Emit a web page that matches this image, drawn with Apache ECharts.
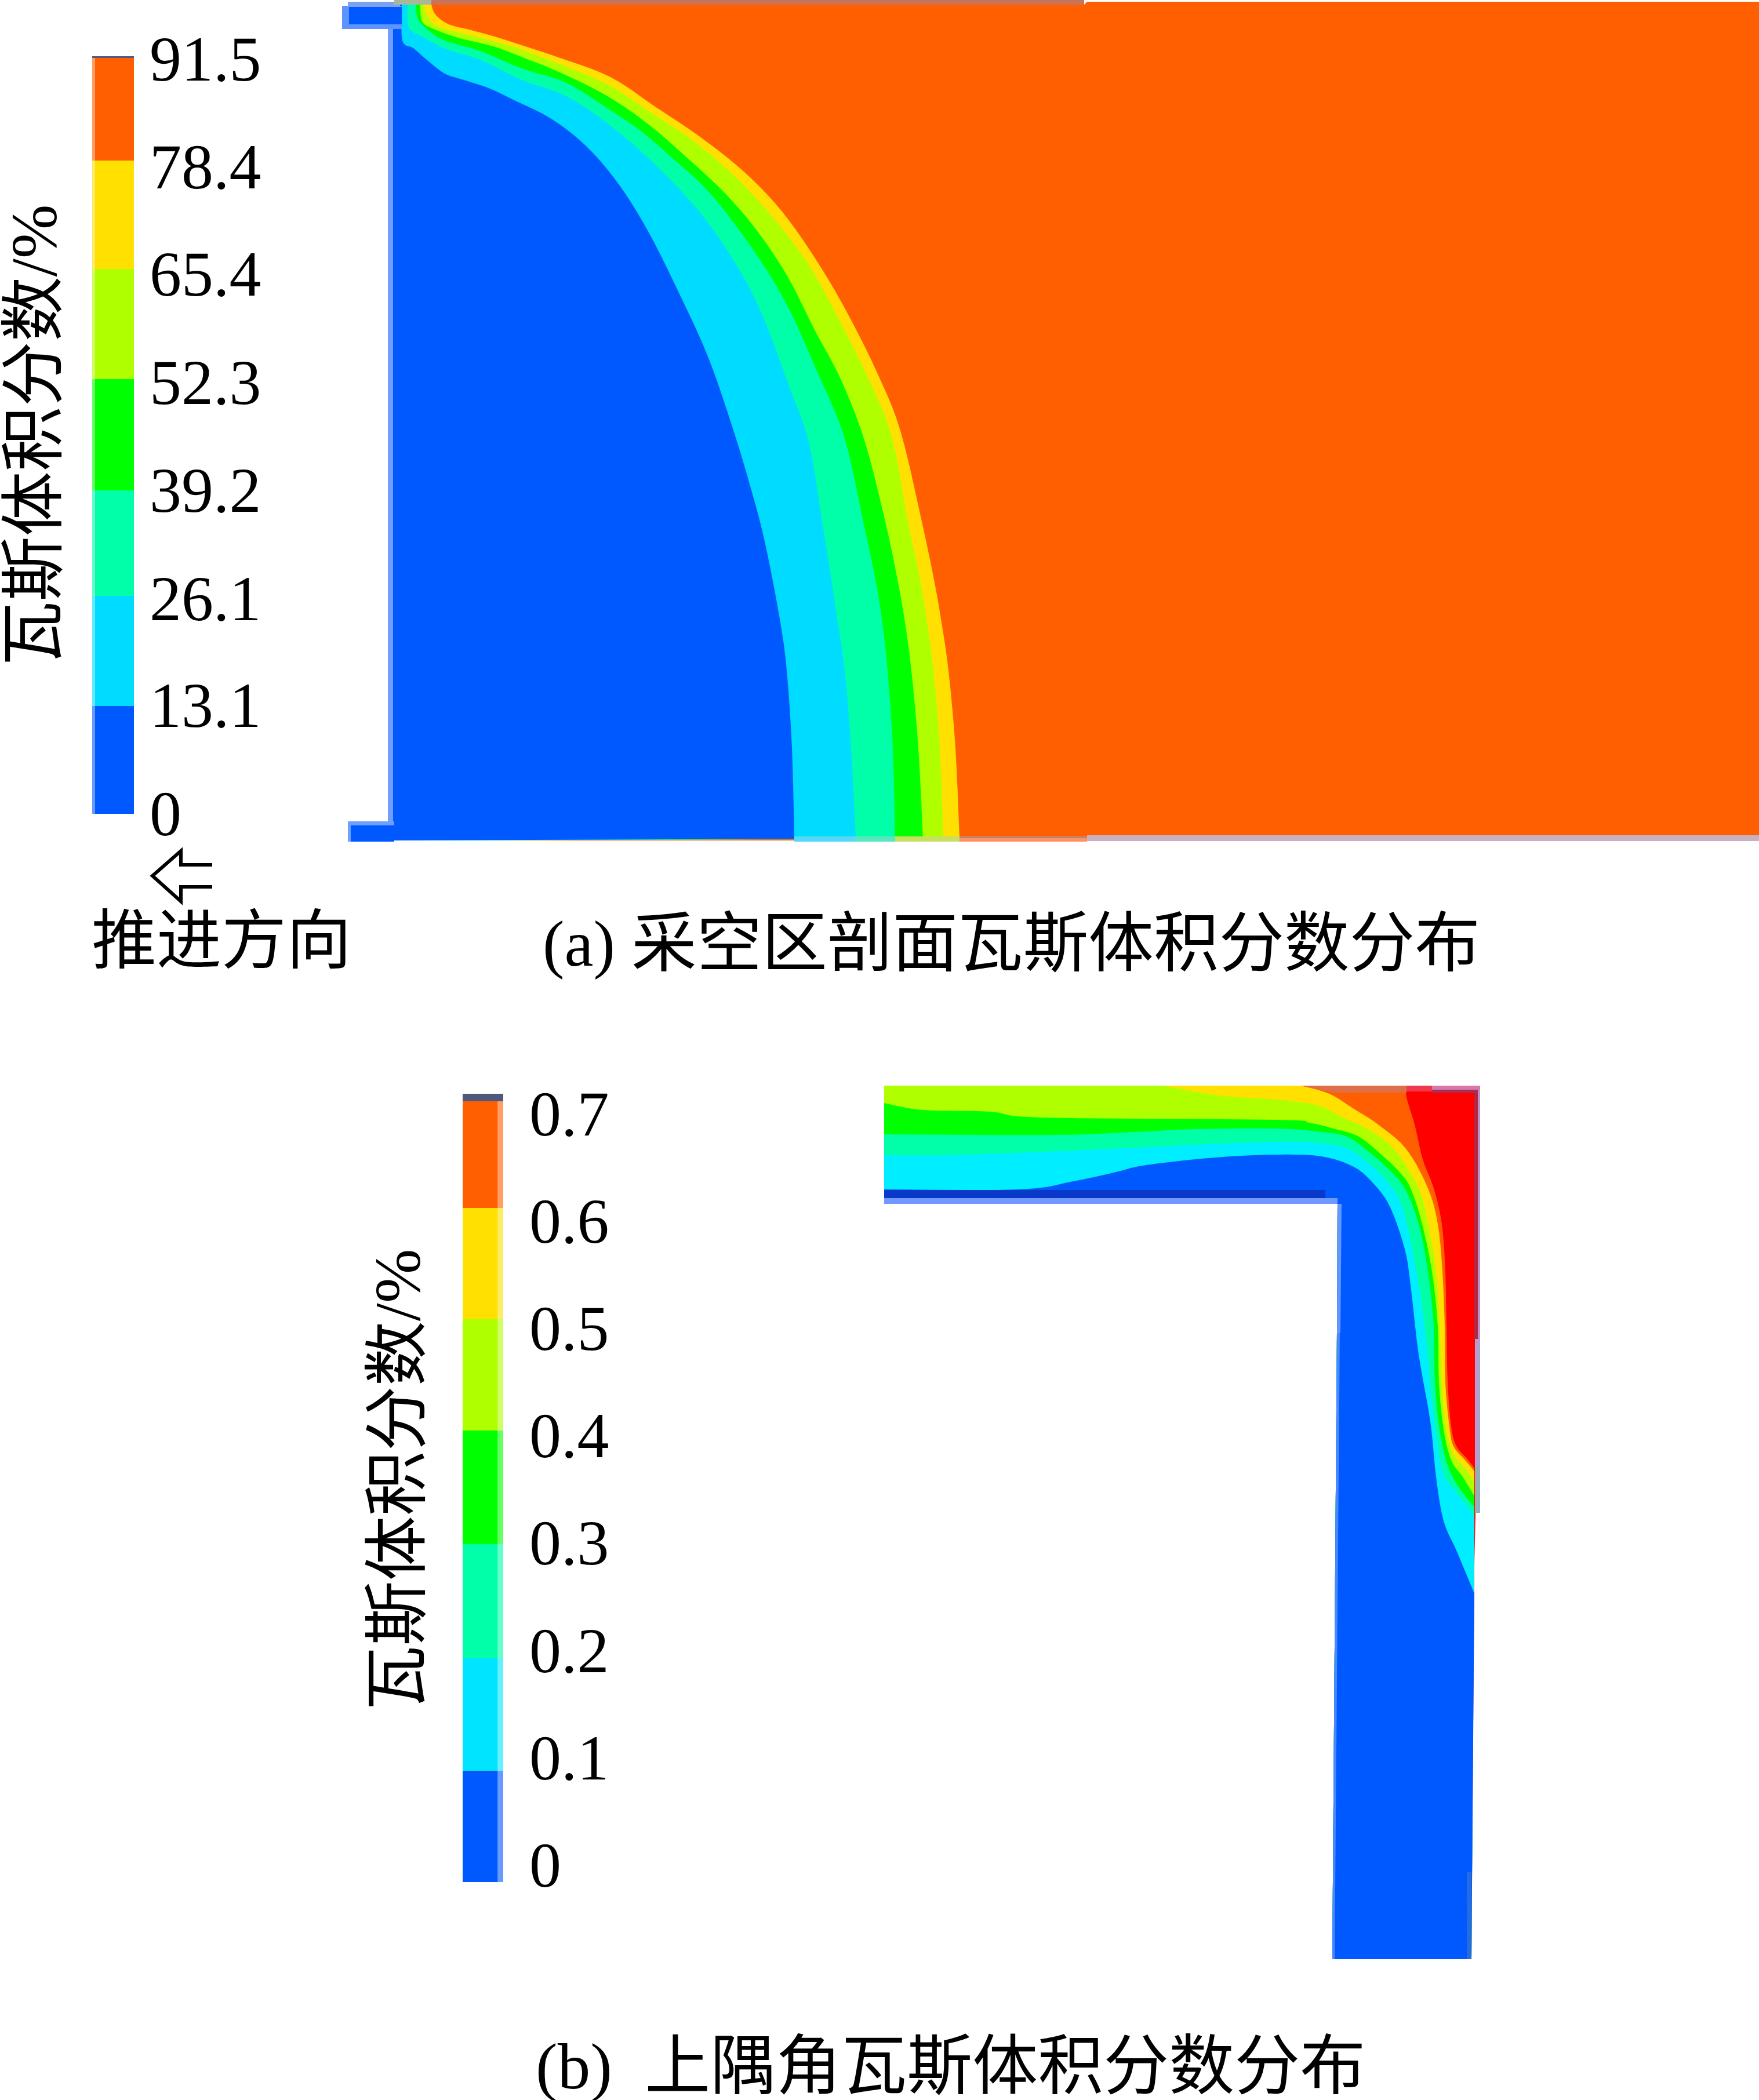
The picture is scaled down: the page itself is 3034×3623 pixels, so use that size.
<!DOCTYPE html>
<html>
<head>
<meta charset="utf-8">
<style>html,body{margin:0;padding:0;background:#fff}#c{width:3034px;height:3623px}</style>
<script src="https://cdn.jsdelivr.net/npm/echarts@6/dist/echarts.min.js"></script>
</head>
<body>
<div id="c"></div>
<script>
// ---------- colour bar (a): gas volume fraction /%
var ticksA = [0, 13.1, 26.1, 39.2, 52.3, 65.4, 78.4, 91.5];
var edgesA = [0.56, 13.63, 26.99, 39.78, 53.27, 66.62, 79.77, 92.42];
var bandColoursA = ['#0058ff', '#00dcff', '#00ffa8', '#00ff00', '#b0ff00', '#ffe000', '#ff5f00'];
// ---------- colour bar (b)
var ticksB = [0, 0.1, 0.2, 0.3, 0.4, 0.5, 0.6, 0.7];
var edgesB = [-0.0113, 0.0924, 0.1971, 0.3035, 0.4094, 0.5131, 0.6168, 0.7232];
var bandColoursB = ['#0058ff', '#00e4ff', '#00ffa8', '#00ff00', '#b0ff00', '#ffe000', '#ff5f00'];

// ---------- contour boundaries, [x, y] on the section's axes
var aBlueCyan = [[693,8],[694,70],[713,83],[736,103],[767,127],[797,137],[843,152],[885,172],[951,205],[1012,253],[1068,319],[1119,401],[1170,503],[1221,615],[1262,733],[1293,835],[1319,934],[1345,1068],[1357,1157],[1366,1291],[1370,1447]];
var aCyanSpring = [[703,8],[705,47],[728,63],[770,85],[828,103],[900,138],[977,166],[1053,217],[1130,284],[1206,365],[1267,452],[1313,539],[1359,661],[1395,763],[1418,900],[1434,1000],[1444,1068],[1457,1157],[1468,1291],[1476,1447]];
var aSpringGreen = [[717,8],[721,33],[740,53],[767,70],[828,88],[900,118],[977,143],[1048,187],[1104,225],[1160,273],[1216,324],[1267,386],[1323,467],[1364,539],[1405,631],[1456,753],[1489,900],[1510,1000],[1521,1068],[1531,1157],[1540,1291],[1544,1447]];
var aGreenLime = [[725,8],[728,37],[748,50],[790,65],[851,80],[904,100],[966,125],[1048,166],[1119,215],[1186,273],[1252,335],[1308,401],[1359,478],[1405,569],[1451,656],[1492,763],[1527,900],[1548,1000],[1560,1068],[1572,1157],[1584,1291],[1592,1447]];
var aLimeYellow = [[730,8],[740,33],[759,47],[809,60],[866,75],[925,95],[1043,143],[1119,192],[1196,243],[1267,304],[1334,376],[1395,457],[1446,549],[1497,651],[1538,753],[1566,900],[1587,1000],[1598,1068],[1610,1157],[1621,1291],[1627,1447]];
var aYellowOrange = [[744,8],[751,25],[774,42],[813,52],[866,67],[966,100],[1053,133],[1130,184],[1206,235],[1283,296],[1349,365],[1410,452],[1461,539],[1512,641],[1553,743],[1590,900],[1611,1000],[1623,1068],[1636,1157],[1648,1291],[1655,1447]];

// ---------- contour boundaries
var bBlueCyan = [[1525,2052],[1760,2052],[1851,2038],[1921,2023],[1977,2010],[2096,1997],[2202,1992],[2279,1995],[2335,2013],[2370,2043],[2398,2083],[2423,2155],[2433,2217],[2447,2337],[2467,2452],[2477,2548],[2490,2624],[2513,2677],[2543,2749]];
var bCyanSpring = [[1525,1993],[1640,1993],[1851,1985],[2061,1975],[2202,1970],[2272,1972],[2321,1980],[2356,2003],[2391,2037],[2419,2083],[2443,2194],[2457,2289],[2467,2385],[2477,2471],[2490,2543],[2510,2572],[2543,2615]];
var bSpringGreen = [[1525,1957],[1816,1958],[1956,1953],[2061,1948],[2202,1947],[2272,1952],[2321,1960],[2356,1983],[2391,2013],[2423,2050],[2447,2112],[2463,2194],[2473,2289],[2475,2385],[2483,2466],[2497,2528],[2517,2567],[2543,2600]];
var bGreenLime = [[1525,1903],[1591,1915],[1710,1918],[1795,1928],[2202,1932],[2258,1937],[2300,1947],[2342,1960],[2377,1987],[2412,2020],[2433,2050],[2453,2112],[2470,2194],[2480,2289],[2482,2385],[2490,2466],[2503,2519],[2523,2548],[2543,2581]];
var bLimeYellow = [[2005,1873],[2103,1890],[2202,1897],[2272,1907],[2321,1930],[2363,1950],[2405,1983],[2447,2050],[2463,2112],[2477,2194],[2483,2289],[2487,2385],[2495,2466],[2507,2509],[2527,2533],[2543,2557]];
var bYellowOrange = [[2244,1873],[2293,1887],[2335,1913],[2377,1940],[2426,1983],[2463,2050],[2480,2112],[2488,2194],[2492,2289],[2493,2385],[2500,2461],[2507,2495],[2527,2519],[2543,2538]];
var bOrangeRed = [[2426,1873],[2426,1893],[2440,1940],[2454,2000],[2473,2050],[2487,2112],[2493,2194],[2495,2289],[2497,2385],[2503,2461],[2512,2495],[2530,2516],[2543,2533]];

// ---------- outlines of the two sections
var aClosing = [[677,1450],[677,8]];
var aOutline = [[677,8],[1870,8],[1875,3],[3034,3],[3034,1441],[1875,1441],[1875,1450],[677,1450]];
var bClosingTop = [[2538,3380],[2298,3380],[2306,2300],[2307,2077],[1525,2077],[1525,1873]];
var bClosingLeft = [[2538,3380],[2298,3380],[2306,2300],[2307,2077],[1525,2077]];
var bOutline = [[1525,1873],[2547,1873],[2547,2533],[2543,2700],[2538,3380],[2298,3380],[2306,2300],[2307,2077],[1525,2077]];

// ---------- thin edge details of the sections
var aEdges = [
  {pts:[[669,45],[678,45],[678,1425],[669,1425]], col:'#6f9eff'},
  {pts:[[590,10],[693,10],[693,50],[590,50]], col:'#5f93ff'},
  {pts:[[600,3],[690,3],[690,12],[600,12]], col:'#7aa2f0'},
  {pts:[[602,12],[693,12],[693,42],[602,42]], col:'#0058ff'},
  {pts:[[600,1417],[680,1417],[680,1452],[600,1452]], col:'#6da0ff'},
  {pts:[[605,1424],[680,1424],[680,1452],[605,1452]], col:'#0058ff'},
  {pts:[[744,0],[1870,0],[1870,8],[744,8]], col:'#c87458'},
  {pts:[[680,0],[744,0],[744,8],[680,8]], col:'#a9b79a'},
  {pts:[[1655,1442],[1875,1442],[1875,1446],[1655,1446]], col:'#c48068'},
  {pts:[[1655,1446],[1875,1446],[1875,1452],[1655,1452]], col:'#ff9060'},
  {pts:[[1875,1441],[3034,1441],[3034,1451],[1875,1451]], col:'#c8b0c0'},
  {pts:[[1370,1443],[1476,1443],[1476,1452],[1370,1452]], col:'#55d8f8'},
  {pts:[[1476,1443],[1544,1443],[1544,1452],[1476,1452]], col:'#55e8c0'},
  {pts:[[1544,1443],[1655,1443],[1655,1452],[1544,1452]], col:'#c8e060'}
];
var bEdges = [
  {pts:[[1525,2053],[2286,2053],[2286,2067],[1525,2067]], col:'#0a38c8'},
  {pts:[[1525,2067],[2307,2067],[2307,2077],[1525,2077]], col:'#7098ff'},
  {pts:[[2307,2077],[2314,2077],[2312,2300],[2306,2300]], col:'#6496ff'},
  {pts:[[2306,2300],[2311,2300],[2302,3380],[2298,3380]], col:'#4a88ff'},
  {pts:[[2244,1873],[2426,1873],[2426,1885],[2300,1885]], col:'#dd7048'},
  {pts:[[2426,1873],[2470,1873],[2470,1883],[2426,1883]], col:'#f03850'},
  {pts:[[2470,1873],[2553,1873],[2553,1880],[2470,1880]], col:'#d878a8'},
  {pts:[[2470,1880],[2553,1880],[2553,1885],[2470,1885]], col:'#a03060'},
  {pts:[[2543,1885],[2549,1885],[2549,2310],[2543,2310]], col:'#b02848'},
  {pts:[[2549,1880],[2553,1880],[2553,2310],[2549,2310]], col:'#c090c0'},
  {pts:[[2544,2310],[2553,2310],[2553,2530],[2544,2530]], col:'#b0a0d0'},
  {pts:[[2544,2530],[2553,2530],[2553,2610],[2544,2610]], col:'#90b0b8'},
  {pts:[[2530,3230],[2538,3230],[2538,3380],[2530,3380]], col:'#2a6ae0'}
];

// ---------- advance-direction arrow
var arrowLine = [[366,1492],[312,1492],[312,1468],[263,1511],[312,1555],[312,1530],[366,1530]];

// ---------- texts
var captionA = '(a) 采空区剖面瓦斯体积分数分布';
var captionB = '(b)  上隅角瓦斯体积分数分布';
var advanceText = '推进方向';
var barTitle = '瓦斯体积分数/%';

var FONT = '"Liberation Serif","Noto Sans CJK SC",serif';
var BLUE='#0058ff',CYAN='#00dcff',SPRING='#00ffa8',GREEN='#00ff00',LIME='#b0ff00',YELLOW='#ffe000',ORANGE='#ff5f00',RED='#ff0000';

// smooth drawing of a read-off boundary (Catmull-Rom through the read points)
function curve(pts){
  var out=[];
  for(var i=0;i<pts.length-1;i++){
    var p0=pts[Math.max(i-1,0)],p1=pts[i],p2=pts[i+1],p3=pts[Math.min(i+2,pts.length-1)];
    for(var k=0;k<5;k++){
      var t=k/5,t2=t*t,t3=t2*t;
      out.push([
        0.5*(2*p1[0]+(p2[0]-p0[0])*t+(2*p0[0]-5*p1[0]+4*p2[0]-p3[0])*t2+(3*p1[0]-p0[0]-3*p2[0]+p3[0])*t3),
        0.5*(2*p1[1]+(p2[1]-p0[1])*t+(2*p0[1]-5*p1[1]+4*p2[1]-p3[1])*t2+(3*p1[1]-p0[1]-3*p2[1]+p3[1])*t3)
      ]);
    }
  }
  out.push(pts[pts.length-1]);
  return out;
}
function lay(b,closing,col){return {pts:curve(b).concat(closing),col:col};}

var layers = [].concat(
  [{pts:aOutline,col:ORANGE},
   lay(aYellowOrange,aClosing,YELLOW),
   lay(aLimeYellow,aClosing,LIME),
   lay(aGreenLime,aClosing,GREEN),
   lay(aSpringGreen,aClosing,SPRING),
   lay(aCyanSpring,aClosing,CYAN),
   lay(aBlueCyan,aClosing,BLUE)],
  aEdges,
  [{pts:bOutline,col:RED},
   lay(bOrangeRed,bClosingTop,ORANGE),
   lay(bYellowOrange,bClosingTop,YELLOW),
   lay(bLimeYellow,bClosingTop,LIME),
   lay(bGreenLime,bClosingLeft,GREEN),
   lay(bSpringGreen,bClosingLeft,SPRING),
   lay(bCyanSpring,bClosingLeft,'#00eeff'),
   lay(bBlueCyan,bClosingLeft,BLUE)],
  bEdges
);

function bandSeries(gridIndex,edges,colours,cap,stripX0,stripX1){
  var rows=colours.map(function(c,i){return [i];});
  return {
    type:'custom',xAxisIndex:gridIndex,yAxisIndex:gridIndex,silent:true,clip:false,
    data:rows,encode:{x:[],y:[]},
    renderItem:function(p,api){
      var i=p.dataIndex;
      var a=api.coord([0,edges[i+1]]),b=api.coord([1,edges[i]]);
      var s0=api.coord([stripX0,edges[i+1]]),s1=api.coord([stripX1,edges[i]]);
      return {type:'group',children:[
        {type:'rect',shape:{x:a[0],y:a[1],width:b[0]-a[0],height:b[1]-a[1]},style:{fill:colours[i]}},
        {type:'rect',shape:{x:s0[0],y:s0[1],width:s1[0]-s0[0],height:s1[1]-s0[1]},style:{fill:'#ffffff',opacity:0.4}}
      ].concat(i===colours.length-1?[{type:'rect',shape:{x:a[0],y:a[1],width:b[0]-a[0],height:cap},style:{fill:'#50587c'}}]:[])};
    }
  };
}
function barAxis(gridIndex,ticks,margin){
  return {gridIndex:gridIndex,type:'value',position:'right',min:ticks[0],max:ticks[ticks.length-1],
    axisLine:{show:false},axisTick:{show:false},splitLine:{show:false},
    axisLabel:{show:true,customValues:ticks,margin:margin,color:'#000',fontFamily:FONT,fontSize:110,align:'left',verticalAlign:'middle',
      formatter:function(v){return String(v);},showMinLabel:true,showMaxLabel:true,hideOverlap:false}};
}
function text(t,x,y,size,rot,align){
  return {type:'text',x:x,y:y,rotation:rot||0,silent:true,
    style:{text:t,fill:'#000',font:size+'px '+FONT,align:align||'left',verticalAlign:'middle'}};
}

var chart=echarts.init(document.getElementById('c'),null,{renderer:'canvas',width:3034,height:3623});
chart.setOption({
  animation:false,
  backgroundColor:'#fff',
  grid:[
    {left:0,top:0,width:3034,height:3623},
    {left:159,top:110,width:72,height:1302},
    {left:798,top:1930,width:70,height:1296}
  ],
  xAxis:[
    {gridIndex:0,type:'value',min:0,max:3034,show:false},
    {gridIndex:1,type:'value',min:0,max:1,show:false},
    {gridIndex:2,type:'value',min:0,max:1,show:false}
  ],
  yAxis:[
    {gridIndex:0,type:'value',min:0,max:3623,inverse:true,show:false},
    barAxis(1,ticksA,27),
    barAxis(2,ticksB,45)
  ],
  series:[
    {type:'custom',xAxisIndex:0,yAxisIndex:0,silent:true,clip:false,
     data:layers.map(function(l,i){return [i];}),encode:{x:[],y:[]},
     renderItem:function(p,api){
       var l=layers[p.dataIndex];
       return {type:'polygon',z2:p.dataIndex,shape:{points:l.pts.map(function(q){return api.coord(q);})},style:{fill:l.col}};
     }},
    bandSeries(1,edgesA,bandColoursA,3,0,0.07),
    bandSeries(2,edgesB,bandColoursB,13,0.86,1),
    {type:'custom',xAxisIndex:0,yAxisIndex:0,silent:true,clip:false,
     data:[[0]],encode:{x:[],y:[]},
     renderItem:function(p,api){
       return {type:'polyline',shape:{points:arrowLine.map(function(q){return api.coord(q);})},style:{stroke:'#000',lineWidth:6,fill:null}};
     }}
  ],
  graphic:[
    text(barTitle,68,751,112,Math.PI/2,'center'),
    text(barTitle,695,2553,112,Math.PI/2,'center'),
    text(advanceText,158,1633,112),
    text(captionA,936,1636,112.6),
    text(captionB,924,3573,113)
  ]
});
</script>
</body>
</html>
